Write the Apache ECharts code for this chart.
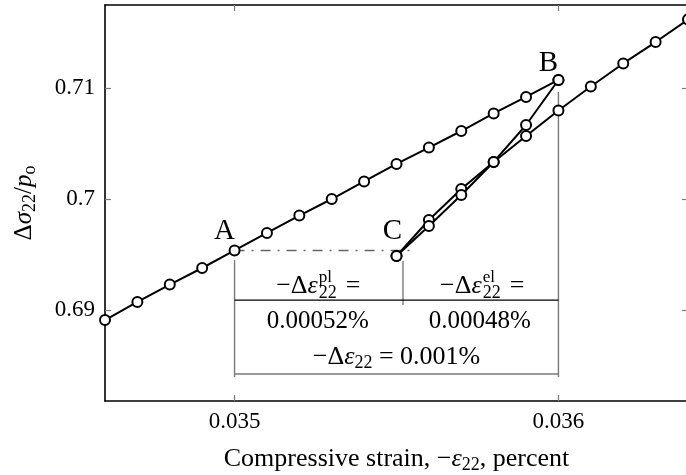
<!DOCTYPE html>
<html>
<head>
<meta charset="utf-8">
<script src="https://cdn.jsdelivr.net/npm/echarts@6/dist/echarts.min.js"></script>
<style>
  html, body { margin: 0; padding: 0; background: #fff; }
  #chart { width: 686px; height: 475px; }
</style>
</head>
<body>
<div id="chart"></div>
<script>
// Loading path up to point B (strain in percent, normalised stress)
const loadStrain = [0.0346, 0.0347, 0.0348, 0.0349, 0.0350, 0.0351, 0.0352, 0.0353,
                    0.0354, 0.0355, 0.0356, 0.0357, 0.0358, 0.0359, 0.0360];
const loadStress = [0.68910, 0.69073, 0.69230, 0.69379, 0.69537, 0.69695, 0.69852, 0.70001,
                    0.70159, 0.70317, 0.70465, 0.70614, 0.70772, 0.70921, 0.71074];
// Unloading from B down to C
const unloadStrain = [0.0360, 0.0359, 0.0358, 0.0357, 0.0356, 0.0355];
const unloadStress = [0.71074, 0.70668, 0.70335, 0.70091, 0.69812, 0.69487];
// Reloading from C
const reloadStrain = [0.0355, 0.0356, 0.0357, 0.0358, 0.0359, 0.0360, 0.0361, 0.0362, 0.0363, 0.0364];
const reloadStress = [0.69487, 0.69758, 0.70037, 0.70335, 0.70569, 0.70799, 0.71015, 0.71223, 0.71416, 0.71619];

const xTicks = [0.035, 0.036];
const yTicks = [0.69, 0.70, 0.71];

// Strain decomposition between A and B
const strainA = 0.035;
const plasticStrain = 0.00052;   // percent
const elasticStrain = 0.00048;   // percent
const totalStrain = 0.001;       // percent

const FONT = "'Liberation Serif', 'DejaVu Serif', serif";
const GREY = '#7a7a7a';

const zip = (xs, ys) => xs.map((x, i) => [x, ys[i]]);
const pointA = [loadStrain[4], loadStress[4]];
const pointB = [loadStrain[14], loadStress[14]];
const pointC = [unloadStrain[5], unloadStress[5]];
const strainSplit = strainA + plasticStrain;
const strainB = strainA + totalStrain;

// Dimension-line heights (stress units)
const dimTopA = 0.69451, dimTopSplit = 0.69442, dimTopB = 0.70966;
const dimRuleMid = 0.69090, dimSplitBottom = 0.69045;
const dimRuleLow = 0.68423, dimBottom = 0.68396;
const dashEnd = 0.03556;

const chart = echarts.init(document.getElementById('chart'), null, { renderer: 'canvas' });

const thinLine = (data, color, width, type) => ({
  type: 'line', data, symbol: 'none', silent: true, z: 1,
  lineStyle: { color, width, type: type || 'solid' }, animation: false
});
const curve = (data, z) => ({
  type: 'line', data, symbol: 'circle', symbolSize: 10, z,
  lineStyle: { color: '#000', width: 2 },
  itemStyle: { color: '#fff', borderColor: '#000', borderWidth: 2 },
  animation: false, clip: false
});

const fmt = v => String(+v.toFixed(3));

const nameRich = size => ({
  m: { fontFamily: FONT, fontSize: size, color: '#000', lineHeight: 30, verticalAlign: 'middle' },
  i: { fontFamily: FONT, fontSize: size, fontStyle: 'italic', color: '#000', lineHeight: 30, verticalAlign: 'middle' },
  s: { fontFamily: FONT, fontSize: Math.round(size * 0.7), color: '#000', lineHeight: 16, verticalAlign: 'bottom' }
});

chart.setOption({
  animation: false,
  grid: { left: 105, right: -2, top: 5, bottom: 74, containLabel: false, outerBoundsMode: 'none' },
  xAxis: [{
    type: 'value', min: 0.0346, max: 0.0364, position: 'bottom',
    axisLine: { lineStyle: { color: '#000', width: 1.6 } },
    axisTick: { inside: true, length: 6, lineStyle: { color: GREY, width: 1.2 }, customValues: xTicks },
    axisLabel: { customValues: xTicks, formatter: fmt, margin: 9, color: '#000', fontFamily: FONT, fontSize: 23 },
    splitLine: { show: false },
    name: '{m|Compressive strain, −}{i|ε}{s|22}{m|, percent}',
    nameLocation: 'middle', nameGap: 43,
    nameTextStyle: { rich: nameRich(26) }
  }, {
    type: 'value', min: 0.0346, max: 0.0364, position: 'top',
    axisLine: { lineStyle: { color: '#000', width: 1.6 } },
    axisTick: { inside: true, length: 6, lineStyle: { color: GREY, width: 1.2 }, customValues: xTicks },
    axisLabel: { show: false }, splitLine: { show: false }
  }],
  yAxis: [{
    type: 'value', min: 0.6818, max: 0.7175, position: 'left',
    axisLine: { show: true, lineStyle: { color: '#000', width: 1.6 } },
    axisTick: { show: true, inside: true, length: 6, lineStyle: { color: GREY, width: 1.2 }, customValues: yTicks },
    axisLabel: { customValues: yTicks, formatter: fmt, margin: 10, color: '#000', fontFamily: FONT, fontSize: 23 },
    splitLine: { show: false },
    name: '{m|Δ}{i|σ}{s|22}{m|/}{i|p}{s|o}',
    nameLocation: 'middle', nameGap: 66, nameRotate: 90,
    nameTextStyle: { rich: nameRich(25) }
  }, {
    type: 'value', min: 0.6818, max: 0.7175, position: 'right',
    axisLine: { show: true, lineStyle: { color: '#000', width: 1.6 } },
    axisTick: { show: true, inside: true, length: 6, lineStyle: { color: GREY, width: 1.2 }, customValues: yTicks },
    axisLabel: { show: false }, splitLine: { show: false }
  }],
  series: [
    thinLine([pointA, [dashEnd, pointA[1]]], '#666', 1.4, [10, 7, 2, 7]),
    thinLine([[strainA, dimTopA], [strainA, dimBottom]], GREY, 1.4),
    thinLine([[strainSplit, dimTopSplit], [strainSplit, dimSplitBottom]], GREY, 1.4),
    thinLine([[strainB, dimTopB], [strainB, dimBottom]], GREY, 1.4),
    thinLine([[strainA, dimRuleMid], [strainB, dimRuleMid]], '#000', 1.2),
    thinLine([[strainA, dimRuleLow], [strainB, dimRuleLow]], GREY, 1.4),
    curve(zip(loadStrain, loadStress), 3),
    curve(zip(unloadStrain, unloadStress), 4),
    curve(zip(reloadStrain, reloadStress), 5)
  ]
});

// Annotation text placed relative to the data positions
const px = p => chart.convertToPixel({ gridIndex: 0 }, p);
const txt = (text, x, y, size, align, extra) => ({
  type: 'text', x, y, silent: true, z: 10,
  style: Object.assign({
    text, fill: '#000', font: `${size}px ${FONT}`,
    align: align || 'center', textAlign: align || 'center',
    verticalAlign: 'middle', textVerticalAlign: 'middle'
  }, extra || {})
});

const richStyles = size => ({
  m: { fontFamily: FONT, fontSize: size, fill: '#000', color: '#000', lineHeight: 30, verticalAlign: 'middle' },
  i: { fontFamily: FONT, fontSize: size, fontStyle: 'italic', fill: '#000', color: '#000', lineHeight: 30, verticalAlign: 'middle' },
  s: { fontFamily: FONT, fontSize: 18, fill: '#000', color: '#000', lineHeight: 17, verticalAlign: 'bottom' }
});

const pA = px(pointA), pB = px(pointB), pC = px(pointC);
const yMid = px([strainA, dimRuleMid])[1];
const yLow = px([strainA, dimRuleLow])[1];
const yHead = yMid - 14;
const yNum = yMid + 21;
const yTot = yLow - 17;
const xPl = px([strainA + plasticStrain / 2, dimRuleMid])[0];
const xEl = px([strainSplit + elasticStrain / 2, dimRuleMid])[0];
const xTot = px([strainA + totalStrain / 2, dimRuleMid])[0];

const strainHeader = (cx, sup) => [
  txt('{m|−Δ}{i|ε}', cx + 1, yHead, 26, 'right', { rich: richStyles(26) }),
  txt(sup, cx + 2, yHead - 9, 17, 'left'),
  txt('22', cx + 2, yHead + 7, 18, 'left'),
  txt('=', cx + 29, yHead, 26, 'left')
];

chart.setOption({
  graphic: [
    txt('A', pA[0] - 10, pA[1] - 19, 29),
    txt('B', pB[0] - 10, pB[1] - 17, 29),
    txt('C', pC[0] - 4, pC[1] - 25, 29),
    ...strainHeader(xPl - 2, 'pl'),
    ...strainHeader(xEl, 'el'),
    txt(plasticStrain.toFixed(5) + '%', xPl - 1, yNum, 25),
    txt(elasticStrain.toFixed(5) + '%', xEl - 1, yNum, 25),
    txt('{m|−Δ}{i|ε}{s|22}{m| = ' + totalStrain + '%}', xTot, yTot, 26, 'center', { rich: richStyles(26) })
  ]
});
</script>
</body>
</html>
